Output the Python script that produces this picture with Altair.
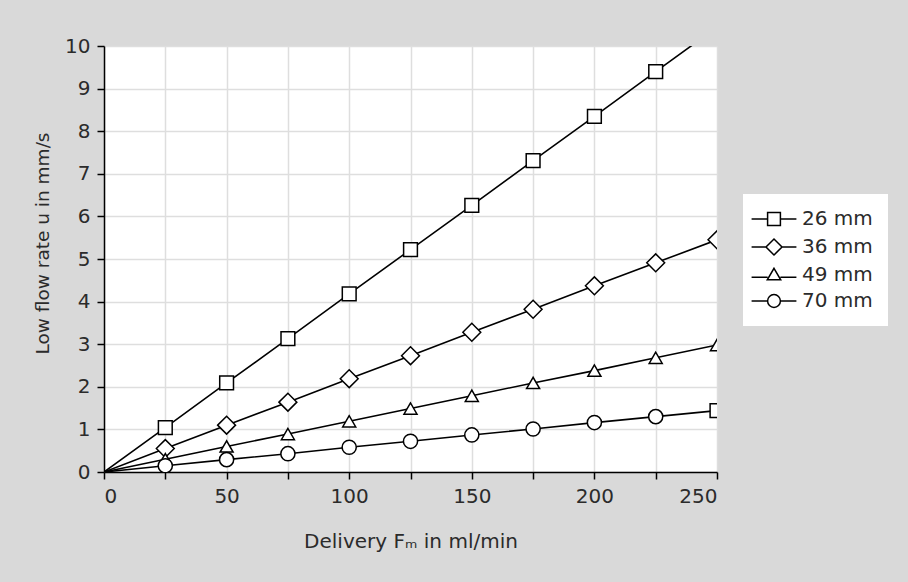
import altair as alt
import pandas as pd

# ---- data ----
delivery = [0, 25, 50, 75, 100, 125, 150, 175, 200, 225, 250]
series = ["26 mm", "36 mm", "49 mm", "70 mm"]
u_26 = [0, 1.04, 2.09, 3.13, 4.18, 5.22, 6.26, 7.31, 8.35, 9.40, 10.44]
u_36 = [0, 0.55, 1.10, 1.64, 2.19, 2.73, 3.28, 3.82, 4.37, 4.91, 5.45]
u_49 = [0, 0.30, 0.60, 0.89, 1.19, 1.49, 1.79, 2.09, 2.38, 2.68, 2.98]
u_70 = [0, 0.145, 0.29, 0.43, 0.58, 0.72, 0.87, 1.01, 1.16, 1.30, 1.44]

values = {"26 mm": u_26, "36 mm": u_36, "49 mm": u_49, "70 mm": u_70}
marker = {"26 mm": "square", "36 mm": "diamond", "49 mm": "triangle-up", "70 mm": "circle"}
msize = {"square": 190, "diamond": 320, "triangle-up": 170, "circle": 200}

rows = []
for s in series:
    for x, u in zip(delivery, values[s]):
        shp = marker[s]
        if s == "70 mm" and x == 250:
            shp = "square"  # the reference draws a square at this point
        rows.append({"F": x, "u": u, "series": s, "shape": shp, "msize": msize[shp]})
df = pd.DataFrame(rows)

legend_paths = [
    "M-3.5,0L-1,0M-1,-1L1,-1L1,1L-1,1ZM1,0L3.5,0",
    "M-3.5,0L-1.25,0M-1.25,0L0,-1.25L1.25,0L0,1.25ZM1.25,0L3.5,0",
    "M-3.5,0.35L-1,0.35M1,0.35L3.5,0.35M0,-1.05L1.05,0.75L-1.05,0.75Z",
    "M-3.5,0L-1,0M1,0L3.5,0M-1,0A1,1,0,1,0,1,0A1,1,0,1,0,-1,0Z",
]

FONT = "DejaVu Sans"
TXT = "#2b2b2b"
FS = 20

x_enc = alt.X(
    "F:Q",
    scale=alt.Scale(domain=[0, 250], nice=False),
    axis=alt.Axis(
        values=delivery,
        labelExpr="datum.value % 50 == 0 ? datum.label : ''",
        title="Delivery F\u2098 in ml/min",
        titleY=75,
        titleBaseline="alphabetic",
    ),
)
y_enc = alt.Y(
    "u:Q",
    scale=alt.Scale(domain=[0, 10], nice=False),
    axis=alt.Axis(
        values=list(range(0, 11)),
        title="Low flow rate u in mm/s",
        titleX=-62,
        titleY=197,
        titleFontSize=18.5,
        titleBaseline="middle",
    ),
)

base = alt.Chart(df)

lines = base.mark_line(color="black", strokeWidth=1.6, clip=True).encode(
    x=x_enc, y=y_enc, detail="series:N"
)

points = (
    base.transform_filter("datum.F > 0")
    .mark_point(filled=True, fill="white", stroke="black", strokeWidth=1.5, opacity=1, clip=True)
    .encode(
        x="F:Q",
        y="u:Q",
        shape=alt.Shape("shape:N", scale=None, legend=None),
        size=alt.Size("msize:Q", scale=None, legend=None),
    )
)

legend_layer = (
    base.transform_filter("datum.F < 0")
    .mark_point(filled=False, color="black", strokeWidth=1.5, opacity=1, size=164)
    .encode(
        x="F:Q",
        y="u:Q",
        shape=alt.Shape(
            "series:N",
            scale=alt.Scale(domain=series, range=legend_paths),
            legend=alt.Legend(
                title=None,
                orient="none",
                legendX=639,
                legendY=148,
                fillColor="white",
                padding=15,
                symbolSize=164,
                symbolOffset=6,
                labelOffset=18,
                rowPadding=6,
                symbolStrokeColor="black",
                symbolStrokeWidth=1.5,
                symbolOpacity=1,
                labelFont=FONT,
                labelFontSize=FS,
                labelColor=TXT,
            ),
        ),
    )
)

chart = (
    alt.layer(lines, points, legend_layer)
    .resolve_scale(shape="independent", size="independent")
    .properties(
        width=613,
        height=426,
        autosize=alt.AutoSizeParams(type="none"),
        padding={"left": 104, "top": 46, "right": 191, "bottom": 110},
        background="#d9d9d9",
    )
    .configure_view(fill="white", stroke=None)
    .configure_axis(
        domainColor="black",
        domainWidth=1.5,
        tickColor="black",
        tickWidth=1.5,
        tickSize=7,
        gridColor="#dedede",
        gridWidth=1.5,
        labelFont=FONT,
        labelFontSize=FS,
        labelColor=TXT,
        titleFont=FONT,
        titleFontSize=FS,
        titleFontWeight="normal",
        titleColor=TXT,
        labelPadding=7,
    )
)

chart.save("out.html", embed_options={"renderer": "svg", "actions": False})
